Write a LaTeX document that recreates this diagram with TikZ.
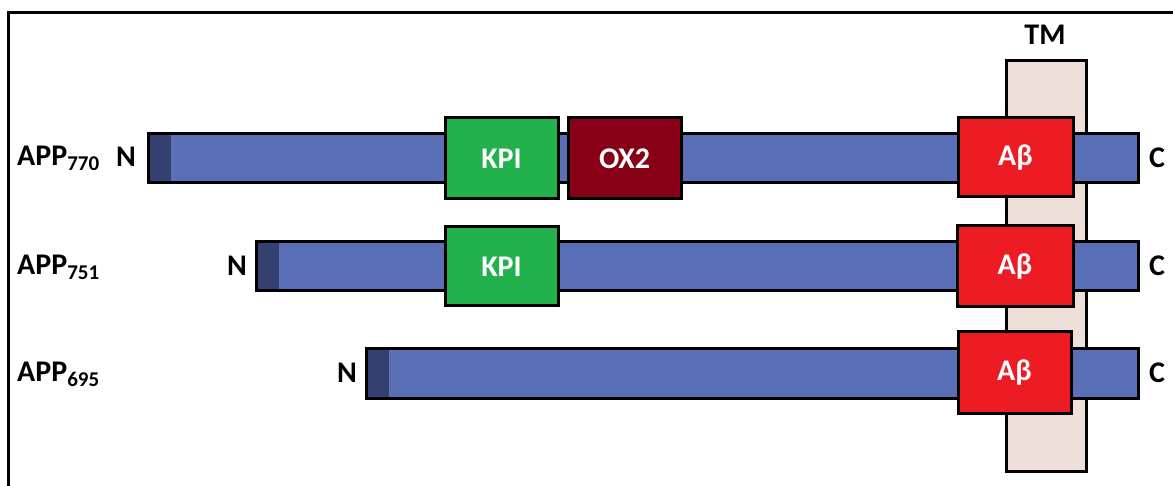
\documentclass[tikz,border=0pt]{standalone}
\usepackage{fontspec}
\setmainfont{Carlito}
\definecolor{barblue}{HTML}{5B6FB6}
\definecolor{bardark}{HTML}{344170}
\definecolor{kpigreen}{HTML}{22B14C}
\definecolor{oxred}{HTML}{880015}
\definecolor{abred}{HTML}{ED1C24}
\definecolor{tmfill}{HTML}{EEDFD8}
\tikzset{
  outline/.style={draw=black, line width=3pt},
  bar/.style={outline, fill=barblue, inner sep=0pt, minimum height=49pt,
    path picture={\fill[bardark] (path picture bounding box.north west) rectangle ([xshift=23pt]path picture bounding box.south west);}},
  dombox/.style={outline, inner sep=0pt, text=white, font=\fontsize{30}{30}\selectfont\bfseries},
  lbl/.style={font=\fontsize{30}{30}\selectfont\bfseries, inner sep=0pt}
}
\newcommand{\appsub}[1]{{\fontsize{21}{21}\selectfont\raisebox{-5pt}{#1}}}
\begin{document}
\begin{tikzpicture}[x=1pt,y=-1pt]
\useasboundingbox (0,0) rectangle (1173,486);
% frame
\draw[line width=3pt] (8,490) -- (8,13) -- (1180,13);
% TM
\node[outline, fill=tmfill, minimum width=80pt, minimum height=410pt, inner sep=0pt] (tm) at (1046,266) {};
\node[lbl] (tmlabel) at (1045,35) {TM};
% bars
\node[bar, minimum width=990pt] (bar1) at (643,158.5) {};
\node[bar, minimum width=882pt] (bar2) at (697,266) {};
\node[bar, minimum width=772pt] (bar3) at (752,373.5) {};
% domains
\node[dombox, fill=kpigreen, minimum width=113pt, minimum height=81pt] (kpi1) at (501.5,158.5) {KPI};
\node[dombox, fill=oxred, minimum width=113pt, minimum height=81pt] (ox2) at (624.5,158.5) {OX2};
\node[dombox, fill=kpigreen, minimum width=113pt, minimum height=79pt] (kpi2) at (501.5,266.5) {KPI};
\node[dombox, fill=abred, minimum width=115pt, minimum height=79pt] (ab1) at (1015.5,157.5) {Aβ};
\node[dombox, fill=abred, minimum width=116pt, minimum height=81pt] (ab2) at (1015,266.5) {Aβ};
\node[dombox, fill=abred, minimum width=113pt, minimum height=81pt] (ab3) at (1014.5,372.5) {Aβ};
% labels
\node[lbl, anchor=west] (app1) at (17,158) {APP\appsub{770}};
\node[lbl, anchor=west] (app2) at (17,267) {APP\appsub{751}};
\node[lbl, anchor=west] (app3) at (17,374) {APP\appsub{695}};
\node[lbl] (n1) at (126,157) {N};
\node[lbl] (n2) at (237,266) {N};
\node[lbl] (n3) at (347,373) {N};
\node[lbl] (c1) at (1157,158) {C};
\node[lbl] (c2) at (1157,266) {C};
\node[lbl] (c3) at (1157,373) {C};
\end{tikzpicture}
\end{document}
